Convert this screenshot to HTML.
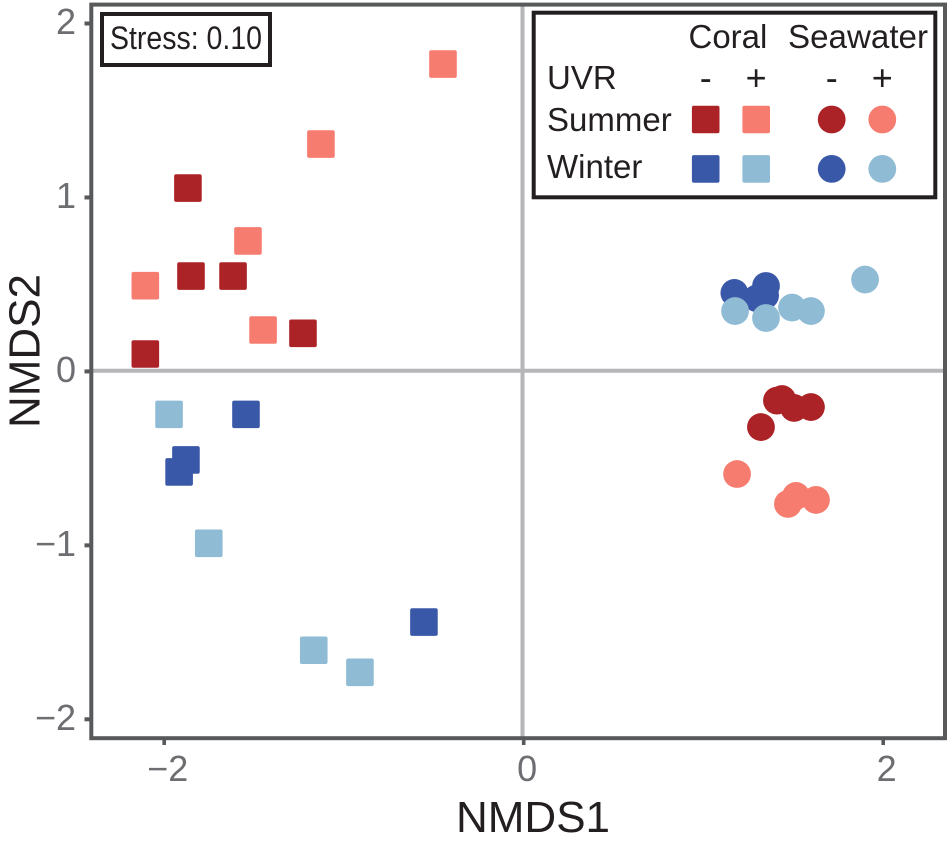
<!DOCTYPE html>
<html lang="en">
<head>
<meta charset="utf-8">
<title>NMDS ordination</title>
<style>
html,body{margin:0;padding:0;background:#fff;width:947px;height:847px;overflow:hidden}
svg{display:block}
text{font-family:"Liberation Sans",sans-serif}
</style>
</head>
<body>
<svg id="chart" width="947" height="847" viewBox="0 0 947 847" xmlns="http://www.w3.org/2000/svg">
  <rect x="0" y="0" width="947" height="847" fill="#ffffff"/>
  <g id="gridlines"></g>
  <g id="ticks"></g>
  <g id="points"></g>
  <rect x="91.3" y="4.6" width="853.7" height="733.6" fill="none" stroke="#58595b" stroke-width="4"/>
  <text x="533" y="832" text-anchor="middle" font-size="44" fill="#231f20">NMDS1</text>
  <text transform="translate(39.5,351) rotate(-90)" text-anchor="middle" font-size="44" fill="#231f20">NMDS2</text>

  <g>
    <rect x="102" y="14" width="168" height="51" fill="#ffffff" stroke="#231f20" stroke-width="4"/>
    <text x="110" y="49" font-size="32" textLength="152" lengthAdjust="spacingAndGlyphs" fill="#231f20">Stress: 0.10</text>
  </g>

  <g>
    <rect x="533.7" y="12.7" width="401.6" height="184.6" fill="#ffffff" stroke="#231f20" stroke-width="4"/>
    <text x="688.5" y="48" font-size="33" fill="#231f20">Coral</text>
    <text x="788" y="48" font-size="33" textLength="140" lengthAdjust="spacingAndGlyphs" fill="#231f20">Seawater</text>
    <text x="547" y="89" font-size="33" fill="#231f20">UVR</text>
    <text x="547" y="131" font-size="33" fill="#231f20">Summer</text>
    <text x="547" y="178" font-size="33" fill="#231f20">Winter</text>
    <text x="705.7" y="90" font-size="36" text-anchor="middle" fill="#231f20">-</text>
    <text x="756.2" y="90" font-size="36" text-anchor="middle" fill="#231f20">+</text>
    <text x="831.7" y="90" font-size="36" text-anchor="middle" fill="#231f20">-</text>
    <text x="882.3" y="90" font-size="36" text-anchor="middle" fill="#231f20">+</text>
    <rect x="691.9" y="105.7" width="27.6" height="27.6" rx="2" fill="#ab2326"/>
    <rect x="742.4" y="105.7" width="27.6" height="27.6" rx="2" fill="#f67c70"/>
    <circle cx="831.7" cy="119.5" r="13.9" fill="#ab2326"/>
    <circle cx="882.3" cy="119.5" r="13.9" fill="#f67c70"/>
    <rect x="691.9" y="155.1" width="27.6" height="27.6" rx="2" fill="#3a58a8"/>
    <rect x="742.4" y="155.1" width="27.6" height="27.6" rx="2" fill="#90bbd5"/>
    <circle cx="831.7" cy="168.9" r="13.9" fill="#3a58a8"/>
    <circle cx="882.3" cy="168.9" r="13.9" fill="#90bbd5"/>
  </g>
</svg>

<script>
const xTickValues = [-2, 0, 2];
const yTickValues = [-2, -1, 0, 1, 2];

const coralSummerMinusX = [-1.868, -1.851, -1.617, -1.228, -2.105];
const coralSummerMinusY = [1.054, 0.548, 0.548, 0.219, 0.100];
const coralSummerPlusX = [-0.449, -1.128, -1.534, -2.105, -1.450];
const coralSummerPlusY = [1.767, 1.307, 0.750, 0.493, 0.238];
const coralWinterMinusX = [-1.545, -1.879, -1.917, -0.555];
const coralWinterMinusY = [-0.247, -0.509, -0.578, -1.441];
const coralWinterPlusX = [-1.973, -1.752, -1.168, -0.911];
const coralWinterPlusY = [-0.247, -0.988, -1.603, -1.730];

const seawaterWinterMinusX = [1.172, 1.348, 1.343, 1.298];
const seawaterWinterMinusY = [0.451, 0.491, 0.437, 0.420];
const seawaterWinterPlusX = [1.176, 1.348, 1.493, 1.598, 1.899];
const seawaterWinterPlusY = [0.347, 0.307, 0.367, 0.347, 0.528];
const seawaterSummerMinusX = [1.409, 1.437, 1.504, 1.598, 1.320];
const seawaterSummerMinusY = [-0.168, -0.159, -0.210, -0.205, -0.320];
const seawaterSummerPlusX = [1.187, 1.515, 1.626, 1.470];
const seawaterSummerPlusY = [-0.590, -0.716, -0.739, -0.762];

const NS = 'http://www.w3.org/2000/svg';
const xScale = function (v) { return 523.7 + v * 179.75; };
const yScale = function (v) { return 371.4 - v * 173.95; };

function make(tag, attrs, parent) {
  const el = document.createElementNS(NS, tag);
  Object.keys(attrs).forEach(function (k) { el.setAttribute(k, attrs[k]); });
  parent.appendChild(el);
  return el;
}
function tickText(v) { return v < 0 ? '\u2212' + Math.abs(v) : String(v); }

const gridGroup = document.getElementById('gridlines');
const vLine = make('line', { x1: xScale(0) - 1.2, x2: xScale(0) - 1.2, y1: 5, y2: 738, stroke: '#b6b6b9', 'stroke-width': 4 }, gridGroup);


const hLine = make('line', { x1: 91, x2: 945, y1: yScale(0) - 0.7, y2: yScale(0) - 0.7, stroke: '#b6b6b9', 'stroke-width': 4 }, gridGroup);



const tickGroup = document.getElementById('ticks');
xTickValues.forEach(function (v) {
  const px = xScale(v);
  const mark = make('line', { x1: px, x2: px, y1: 739, y2: 745, stroke: '#58595b', 'stroke-width': 3.6 }, tickGroup);
  
  
  const label = make('text', { x: px + 3.5, y: 781, 'text-anchor': 'middle', 'font-size': 36, fill: '#6d6e71' }, tickGroup);
  
  
  label.textContent = tickText(v);
});
yTickValues.forEach(function (v) {
  const py = yScale(v);
  const mark = make('line', { x1: 84.5, x2: 90, y1: py, y2: py, stroke: '#58595b', 'stroke-width': 4 }, tickGroup);
  
  
  const label = make('text', { x: 76, y: py + 10.5, 'text-anchor': 'end', 'font-size': 36, fill: '#6d6e71' }, tickGroup);
  
  
  label.textContent = tickText(v);
});

const pointGroup = document.getElementById('points');
function drawSquares(xs, ys, color) {
  xs.forEach(function (v, i) {
    const el = make('rect', { x: xScale(v) - 13.8, y: yScale(ys[i]) - 13.8, width: 27.6, height: 27.6, rx: 2, fill: color }, pointGroup);
    
    
  });
}
function drawCircles(xs, ys, color) {
  xs.forEach(function (v, i) {
    const el = make('circle', { cx: xScale(v), cy: yScale(ys[i]), r: 13.9, fill: color }, pointGroup);
    
    
  });
}
drawSquares(coralSummerMinusX, coralSummerMinusY, '#ab2326');
drawSquares(coralSummerPlusX, coralSummerPlusY, '#f67c70');
drawSquares(coralWinterMinusX, coralWinterMinusY, '#3a58a8');
drawSquares(coralWinterPlusX, coralWinterPlusY, '#90bbd5');
drawCircles(seawaterWinterMinusX, seawaterWinterMinusY, '#3a58a8');
drawCircles(seawaterWinterPlusX, seawaterWinterPlusY, '#90bbd5');
drawCircles(seawaterSummerMinusX, seawaterSummerMinusY, '#ab2326');
drawCircles(seawaterSummerPlusX, seawaterSummerPlusY, '#f67c70');
</script>
</body>
</html>
